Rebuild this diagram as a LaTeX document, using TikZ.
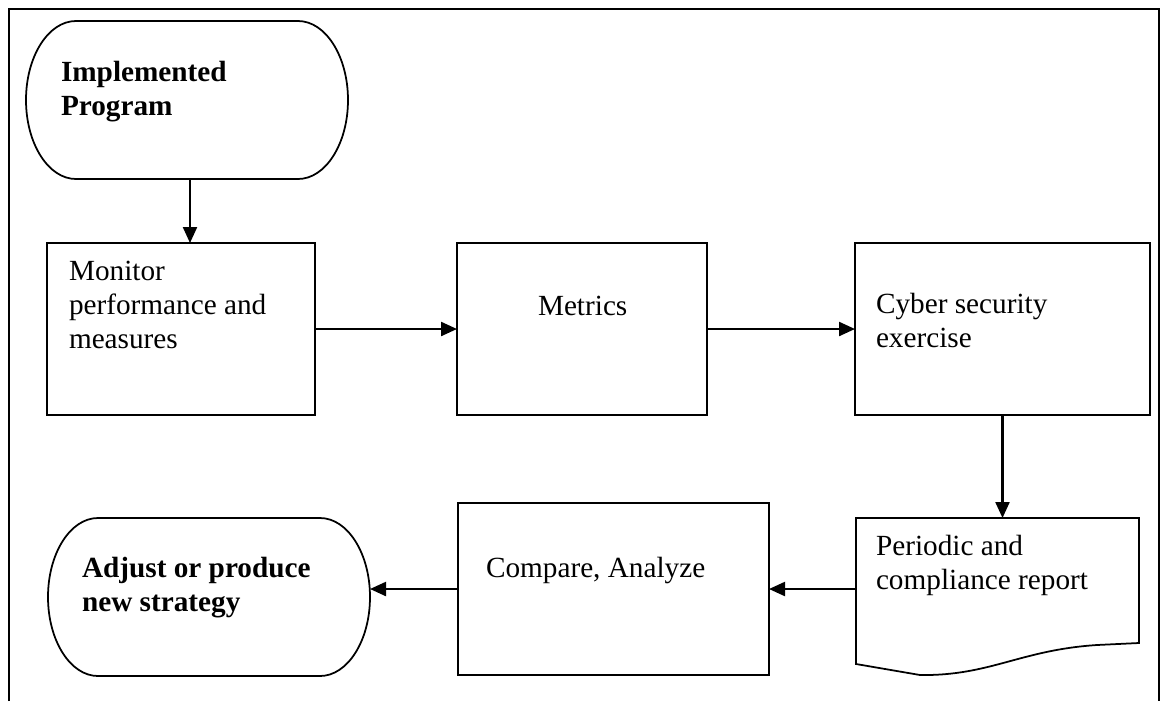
\documentclass[tikz,border=0pt]{standalone}
\usepackage{fontspec}
\setmainfont{Liberation Serif}
\usetikzlibrary{arrows.meta,calc}
\begin{document}
\begin{tikzpicture}[x=0.4pt,y=-0.4pt,
  sz/.style 2 args={minimum width=#1*0.4pt,minimum height=#2*0.4pt},
  box/.style={draw,line width=0.75pt,rectangle,inner sep=0pt,outer sep=0pt},
  ghost/.style={rectangle,inner sep=0pt,outer sep=0pt},
  shapeline/.style={line width=0.7pt},
  txt/.style={anchor=base west,inner sep=0pt,outer sep=0pt,align=left,font=\fontsize{11.7}{13.5}\selectfont},
  btxt/.style={txt,font=\fontsize{11.7}{13.5}\selectfont\bfseries},
  arr/.style={line width=0.9pt,-{Triangle[length=6.4pt,width=5.6pt]}},
  frame/.style={line width=0.8pt}]
\useasboundingbox[fill=white] (0,0) rectangle (1166,701);
% frame
\coordinate (fbl) at (9,701);
\coordinate (ftl) at (9,9);
\coordinate (ftr) at (1159,9);
\coordinate (fbr) at (1159,701);
\draw[frame] (fbl) -- (ftl) -- (ftr) -- (fbr);
% terminators
\node[ghost,sz={322}{158}] (impl) at (187,100) {};
\draw[shapeline] ([xshift=20pt]impl.north west) -- ([xshift=-20pt]impl.north east)
  arc[start angle=90,end angle=-90,x radius=20pt,y radius=31.6pt]
  -- ([xshift=20pt]impl.south west)
  arc[start angle=270,end angle=90,x radius=20pt,y radius=31.6pt] -- cycle;
\node[btxt] (timpl) at (61,115) {Implemented\\Program};

\node[ghost,sz={322}{158}] (adj) at (209,597) {};
\draw[shapeline] ([xshift=20pt]adj.north west) -- ([xshift=-20pt]adj.north east)
  arc[start angle=90,end angle=-90,x radius=20pt,y radius=31.6pt]
  -- ([xshift=20pt]adj.south west)
  arc[start angle=270,end angle=90,x radius=20pt,y radius=31.6pt] -- cycle;
\node[btxt] (tadj) at (82,611) {Adjust or produce\\new strategy};

% boxes
\node[box,sz={268}{172}] (mon) at (181,329) {};
\node[txt] (tmon) at (69,348) {Monitor\\performance and\\measures};
\node[box,sz={250}{172}] (met) at (582,329) {};
\node[txt] (tmet) at (538,315) {Metrics};
\node[box,sz={295}{172}] (cyb) at (1002.5,329) {};
\node[txt] (tcyb) at (876,347) {Cyber security\\exercise};
\node[box,sz={311}{172}] (cmp) at (613.5,589) {};
\node[txt] (tcmp) at (486,577) {Compare, Analyze};

% document shape
\node[ghost,sz={283}{146}] (per) at (997.5,591) {};
\draw[shapeline] (per.south west) -- (per.north west) -- (per.north east) -- (1139,643)
  -- (1097,645) .. controls (1020,650) and (990,676) .. (920,675) -- cycle;
\node[txt] (tper) at (876,589) {Periodic and\\compliance report};

% connectors
\draw[arr] ([xshift=1.2pt]impl.south) -- ([xshift=1.2pt]impl.south |- mon.north);
\draw[arr] (mon.east) -- (met.west);
\draw[arr] (met.east) -- (cyb.west);
\draw[arr] (cyb.south) -- (cyb.south |- per.north);
\draw[arr] (per.west |- cmp.east) -- (cmp.east);
\draw[arr] (cmp.west) -- (cmp.west -| adj.east);
\end{tikzpicture}
\end{document}
